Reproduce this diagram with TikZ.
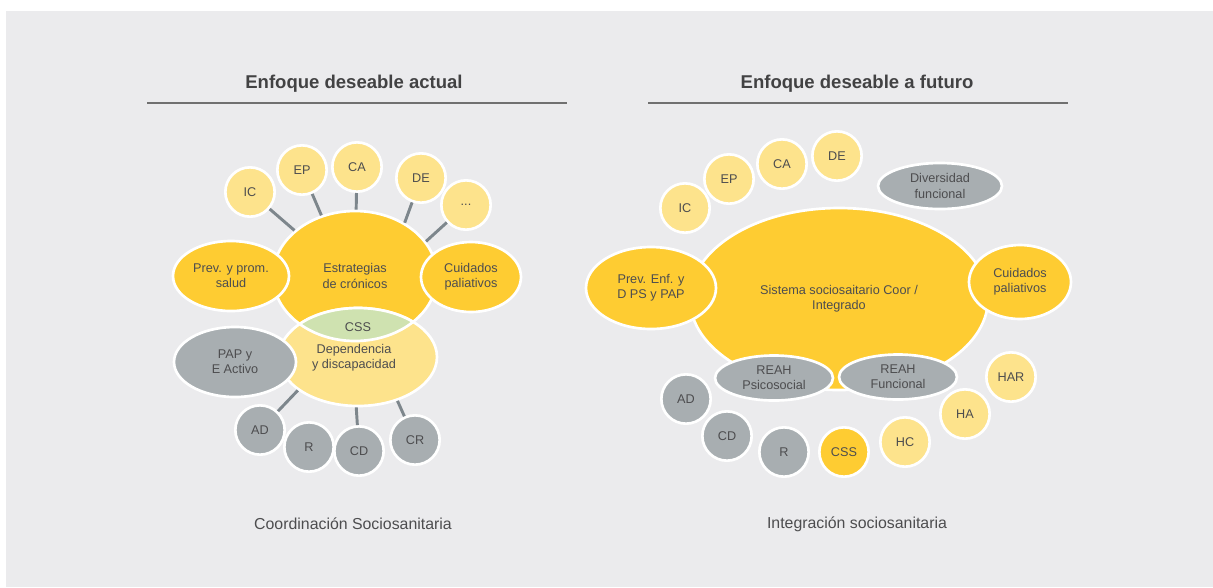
\documentclass[tikz,border=0pt]{standalone}
\usepackage{fontspec}
\setmainfont{Liberation Sans}
\usetikzlibrary{shapes.geometric}
\definecolor{amarillo}{RGB}{254,204,50}
\definecolor{amarilloclaro}{RGB}{253,227,140}
\definecolor{gris}{RGB}{168,174,177}
\definecolor{verde}{RGB}{207,226,176}
\definecolor{fondo}{RGB}{235,235,237}
\definecolor{texto}{RGB}{77,77,79}
\definecolor{linea}{RGB}{125,134,140}
\definecolor{regla}{RGB}{112,112,112}

\begin{document}
\begin{tikzpicture}[x=0.75pt, y=-0.75pt,
    every node/.style={text=texto, align=center, font=\fontsize{9.5}{11.5}\selectfont},
    bola/.style={circle, draw=white, line width=2pt, minimum size=37pt, inner sep=0pt},
    elipse/.style={ellipse, draw=white, line width=2pt, inner sep=0pt},
    enlace/.style={draw=linea, line width=2.2pt},
    titulo/.style={text=texto!85!black, font=\fontsize{13.9}{16}\selectfont\bfseries},
    pie/.style={font=\fontsize{11.9}{14}\selectfont}]
        \useasboundingbox (0,0) rectangle (1213,587);
        \fill[fondo] (6,11) rectangle (1213,587);

        % titles
        \node[titulo] (tact) at (354,84) {Enfoque deseable actual};
        \node[titulo] (tfut) at (857,84) {Enfoque deseable a futuro};
        \coordinate (ract1) at (147,103);
        \coordinate (ract2) at (567,103);
        \coordinate (rfut1) at (648,103);
        \coordinate (rfut2) at (1068,103);
        \draw[regla, line width=2pt] (ract1) -- (ract2);
        \draw[regla, line width=2pt] (rfut1) -- (rfut2);

        % actual
        \node[elipse, fill=amarillo, minimum width=123pt, minimum height=97.5pt] (estr) at (355,276) {Estrategias\\de crónicos};
        \node[elipse, fill=amarillo, minimum width=87pt, minimum height=52.5pt] (prev) at (231,276) {Prev. y prom.\\salud};
        \node[elipse, fill=amarillo, minimum width=75pt, minimum height=52.5pt] (cuid) at (471,277) {Cuidados\\paliativos};
        \node[elipse, fill=amarilloclaro, minimum width=118.5pt, minimum height=73.5pt] (dep) at (358,357) {};
        \begin{scope}
            \clip (dep.center) ellipse [x radius=59.25pt, y radius=36.75pt];
            \filldraw[fill=verde, draw=white, line width=2pt] (estr.center) ellipse [x radius=61.5pt, y radius=48.75pt];
        \end{scope}
        \begin{scope}
            \clip (estr.center) ellipse [x radius=61.5pt, y radius=48.75pt];
            \draw[white, line width=2pt] (dep.center) ellipse [x radius=59.25pt, y radius=36.75pt];
        \end{scope}
        \node (css) at (358,327) {CSS};
        \node (deptxt) at (354,358) {Dependencia\\y discapacidad};
        \node[elipse, fill=gris, minimum width=91.5pt, minimum height=52.5pt] (pap) at (235,362) {PAP y\\E Activo};

        \node[bola, fill=amarilloclaro] (ic) at (250,192) {IC};
        \node[bola, fill=amarilloclaro] (ep) at (302,170) {EP};
        \node[bola, fill=amarilloclaro] (ca) at (357,167) {CA};
        \node[bola, fill=amarilloclaro] (de) at (421,178) {DE};
        \node[bola, fill=amarilloclaro] (otros) at (466,205) {...};
        \node[bola, fill=gris] (ad) at (260,430) {AD};
        \node[bola, fill=gris] (r) at (309,447) {R};
        \node[bola, fill=gris] (cd) at (359,451) {CD};
        \node[bola, fill=gris] (cr) at (415,440) {CR};

        \draw[enlace] (ic) -- (estr.143);
        \draw[enlace] (ep) -- (estr.119);
        \draw[enlace] (ca) -- (estr.89);
        \draw[enlace] (de) -- (estr.47);
        \draw[enlace] (otros) -- (estr.26);
        \draw[enlace] (ad) -- (dep.209);
        \draw[enlace] (cd) -- (dep.268);
        \draw[enlace] (cr) -- (dep.312);

        \node[pie] (coord) at (353,524) {Coordinación Sociosanitaria};

        % futuro
        \node[elipse, fill=amarillo, minimum width=223.5pt, minimum height=136.5pt] (sis) at (839,299) {Sistema sociosaitario Coor /\\Integrado};
        \node[elipse, fill=amarillo, minimum width=97.5pt, minimum height=61.5pt] (prevf) at (651,288) {Prev. Enf. y\\D PS y PAP};
        \node[elipse, fill=amarillo, minimum width=76.5pt, minimum height=55.5pt] (cuidf) at (1020,282) {Cuidados\\paliativos};
        \node[elipse, fill=gris, minimum width=93pt, minimum height=34.5pt] (div) at (940,186) {Diversidad\\funcional};
        \node[elipse, fill=gris, minimum width=88.5pt, minimum height=33.75pt] (reahp) at (774,378) {REAH\\Psicosocial};
        \node[elipse, fill=gris, minimum width=88.5pt, minimum height=33.75pt] (reahf) at (898,377) {REAH\\Funcional};

        \node[bola, fill=amarilloclaro] (icf) at (685,208) {IC};
        \node[bola, fill=amarilloclaro] (epf) at (729,179) {EP};
        \node[bola, fill=amarilloclaro] (caf) at (782,164) {CA};
        \node[bola, fill=amarilloclaro] (def) at (837,156) {DE};
        \node[bola, fill=gris] (adf) at (686,399) {AD};
        \node[bola, fill=gris] (cdf) at (727,436) {CD};
        \node[bola, fill=gris] (rf) at (784,452) {R};
        \node[bola, fill=amarillo] (cssf) at (844,452) {CSS};
        \node[bola, fill=amarilloclaro] (hc) at (905,442) {HC};
        \node[bola, fill=amarilloclaro] (ha) at (965,414) {HA};
        \node[bola, fill=amarilloclaro] (har) at (1011,377) {HAR};

        \node[pie] (integ) at (857,524) {Integración sociosanitaria};
\end{tikzpicture}
\end{document}
